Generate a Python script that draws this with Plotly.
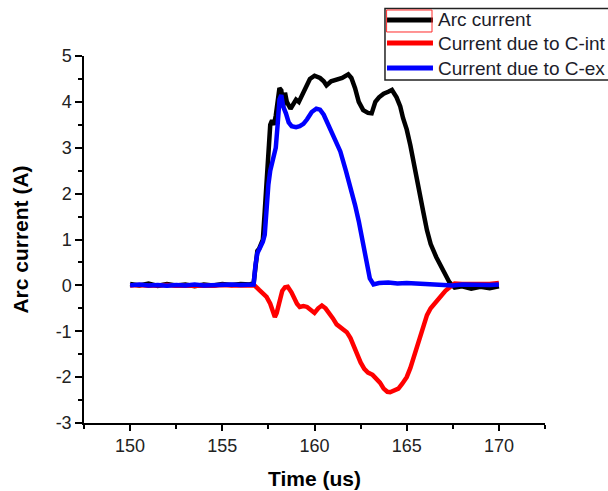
import plotly.graph_objects as go

# ---- data ----
arc_t = [150, 150.5, 151, 151.5, 152, 152.5, 153, 153.5, 154, 154.5, 155, 155.5, 156, 156.5,
         156.7, 156.8, 156.9, 157.0, 157.1, 157.2, 157.3, 157.4, 157.5, 157.6, 157.7, 157.8,
         157.9, 158.0, 158.1, 158.2, 158.3, 158.4, 158.5, 158.7, 158.85, 159.0, 159.15, 159.4,
         159.6, 159.75, 160.0, 160.3, 160.5, 160.65, 160.9, 161.2, 161.5, 161.83, 162.0, 162.2,
         162.4, 162.64, 162.9, 163.1, 163.3, 163.5, 163.75, 164.0, 164.2, 164.45, 164.65, 164.8,
         165.0, 165.2, 165.4, 165.6, 165.9, 166.1, 166.3, 166.6, 167.0, 167.3, 167.6, 168,
         168.5, 169, 169.5, 170]
arc_i = [0.03, 0.0, 0.04, -0.01, 0.03, 0.0, 0.02, -0.02, 0.02, 0.0, 0.03, 0.01, 0.03, 0.02,
         0.05, 0.45, 0.75, 0.8, 0.9, 1.0, 1.6, 2.3, 2.6, 3.5, 3.6, 3.5,
         3.7, 4.1, 4.3, 4.25, 3.9, 4.2, 4.0, 3.85, 3.95, 4.05, 4.0, 4.2,
         4.35, 4.5, 4.57, 4.52, 4.45, 4.36, 4.45, 4.48, 4.52, 4.6, 4.52, 4.3,
         4.0, 3.82, 3.76, 3.75, 4.0, 4.1, 4.18, 4.22, 4.26, 4.1, 3.9, 3.65,
         3.4, 3.05, 2.6, 2.2, 1.6, 1.2, 0.9, 0.62, 0.3, 0.08, -0.05, -0.02,
         -0.07, -0.03, -0.06, -0.02]

cint_t = [150, 150.5, 151, 151.5, 152, 152.5, 153, 153.5, 154, 154.5, 155, 155.5, 156, 156.5,
          156.75, 157.0, 157.2, 157.4, 157.6, 157.75, 157.85, 157.95, 158.1, 158.25, 158.4,
          158.55, 158.75, 158.9, 159.05, 159.2, 159.4, 159.6, 159.8, 160.0, 160.2, 160.4, 160.6,
          160.8, 161.0, 161.2, 161.5, 161.75, 161.95, 162.1, 162.3, 162.5, 162.7, 162.9, 163.15,
          163.35, 163.55, 163.75, 163.95, 164.1, 164.3, 164.55, 164.75, 165.0, 165.2, 165.35,
          165.55, 165.75, 165.95, 166.1, 166.3, 166.5, 166.8, 167.1, 167.4, 167.6, 168, 168.5,
          169, 169.5, 170]
cint_i = [0.0, 0.01, -0.01, 0.0, 0.01, -0.01, 0.0, 0.01, 0.0, -0.01, 0.01, 0.0, 0.0, 0.01,
          0.0, -0.1, -0.18, -0.25, -0.4, -0.6, -0.69, -0.6, -0.3, -0.12, -0.04,
          -0.03, -0.15, -0.28, -0.4, -0.47, -0.45, -0.47, -0.55, -0.6, -0.5, -0.44, -0.5,
          -0.6, -0.72, -0.85, -0.95, -1.02, -1.15, -1.3, -1.48, -1.68, -1.82, -1.9, -1.95,
          -2.02, -2.12, -2.25, -2.32, -2.33, -2.3, -2.25, -2.15, -2.0, -1.8, -1.6,
          -1.35, -1.07, -0.82, -0.65, -0.5, -0.4, -0.25, -0.12, -0.02, 0.04, 0.03, 0.02,
          0.03, 0.03, 0.05]

cex_t = [150, 150.5, 151, 151.5, 152, 152.5, 153, 153.5, 154, 154.5, 155, 155.5, 156, 156.5,
         156.7, 156.8, 156.9, 157.0, 157.1, 157.2, 157.3, 157.4, 157.5, 157.6, 157.7, 157.8,
         157.9, 158.0, 158.1, 158.2, 158.3, 158.45, 158.6, 158.76, 159.0, 159.2, 159.4, 159.6,
         159.85, 160.1, 160.3, 160.5, 160.7, 160.85, 161.1, 161.4, 161.7, 161.95, 162.2, 162.4,
         162.64, 162.85, 163.0, 163.2, 163.5, 164, 164.5, 165, 165.5, 166, 166.5, 167, 167.5,
         168, 168.5, 169, 169.5, 170]
cex_i = [0.0, 0.02, 0.0, 0.01, -0.01, 0.01, 0.0, 0.02, 0.0, 0.01, 0.0, 0.02, 0.01, 0.0,
         0.02, 0.45, 0.7, 0.78, 0.85, 0.95, 1.1, 1.8, 2.2, 2.5, 2.65, 2.8,
         3.0, 3.5, 4.05, 4.15, 3.9, 3.75, 3.55, 3.47, 3.45, 3.47, 3.52, 3.62,
         3.78, 3.85, 3.83, 3.72, 3.55, 3.42, 3.2, 2.92, 2.5, 2.15, 1.75, 1.4,
         0.9, 0.45, 0.15, 0.02, 0.05, 0.06, 0.04, 0.05, 0.03, 0.03, 0.02, 0.01, 0.0,
         0.02, 0.01, 0.02, 0.01, 0.02]

names = ["Arc current", "Current due to C-int", "Current due to C-ex"]
colors = ["#000000", "#ff0000", "#0000ff"]

x_ticks = [150, 155, 160, 165, 170]
y_ticks = [-3, -2, -1, 0, 1, 2, 3, 4, 5]
y_ticktext = ["-3", "-2", "-1", "0", "1", "2", "3", "4", "5"]

FONT = "Arial, 'Liberation Sans', sans-serif"

fig = go.Figure()
for t, i, n, c in [(arc_t, arc_i, names[0], colors[0]),
                   (cint_t, cint_i, names[1], colors[1]),
                   (cex_t, cex_i, names[2], colors[2])]:
    fig.add_trace(go.Scatter(x=t, y=i, mode="lines", name=n, showlegend=False,
                             line=dict(color=c, width=4.5)))

axis_common = dict(showline=True, linecolor="black", linewidth=1.5, showgrid=False,
                   zeroline=False, ticks="outside", tickcolor="black", tickwidth=1.5,
                   mirror=False, tickfont=dict(family=FONT, size=18, color="#222222"))

fig.update_xaxes(range=[147.5, 172.5], tickvals=x_ticks, ticklen=6,
                 minor=dict(ticks="outside", tickvals=[147.5, 152.5, 157.5, 162.5, 167.5, 172.5],
                            ticklen=4, tickcolor="black", tickwidth=1.5),
                 title=dict(text="<b>Time (us)</b>", font=dict(family=FONT, size=21, color="black"),
                            standoff=16),
                 **axis_common)
fig.update_yaxes(range=[-3, 5], tickvals=y_ticks, ticktext=y_ticktext, ticklen=7,
                 minor=dict(ticks="outside", dtick=0.5, ticklen=4, tickcolor="black", tickwidth=1.5),
                 title=dict(text="<b>Arc current (A)</b>", font=dict(family=FONT, size=21, color="black"),
                            standoff=21),
                 **axis_common)

# ---- legend box drawn in paper coordinates (Origin-style, partly off the right edge) ----
fig.add_shape(type="rect", xref="paper", yref="paper", x0=0.6529, x1=1.1453, y0=0.9346, y1=1.1294,
              line=dict(color="#222222", width=1.5), fillcolor="white", layer="above")
row_y = [1.0981, 1.0354, 0.9673]
for n, c, ry in zip(names, colors, row_y):
    fig.add_shape(type="line", xref="paper", yref="paper", x0=0.6573, x1=0.7570, y0=ry, y1=ry,
                  line=dict(color=c, width=5), layer="above")
    fig.add_annotation(xref="paper", yref="paper", x=0.7636, y=ry, text=n, showarrow=False,
                       xanchor="left", yanchor="middle",
                       font=dict(family=FONT, size=19, color="#1c1c2a"))
# red selection rectangle around the first legend sample
fig.add_shape(type="rect", xref="paper", yref="paper", x0=0.6564, x1=0.7549, y0=1.0654, y1=1.1253,
              line=dict(color="#ff2a2a", width=1), layer="above")

fig.update_layout(
    width=608, height=491,
    margin=dict(l=84, r=63, t=56, b=68, autoexpand=False),
    plot_bgcolor="white", paper_bgcolor="white",
    font=dict(family=FONT, color="black"),
    showlegend=False,
)

fig.write_html("out.html", config={"displayModeBar": False},
               post_script="document.body.style.margin='0';")
